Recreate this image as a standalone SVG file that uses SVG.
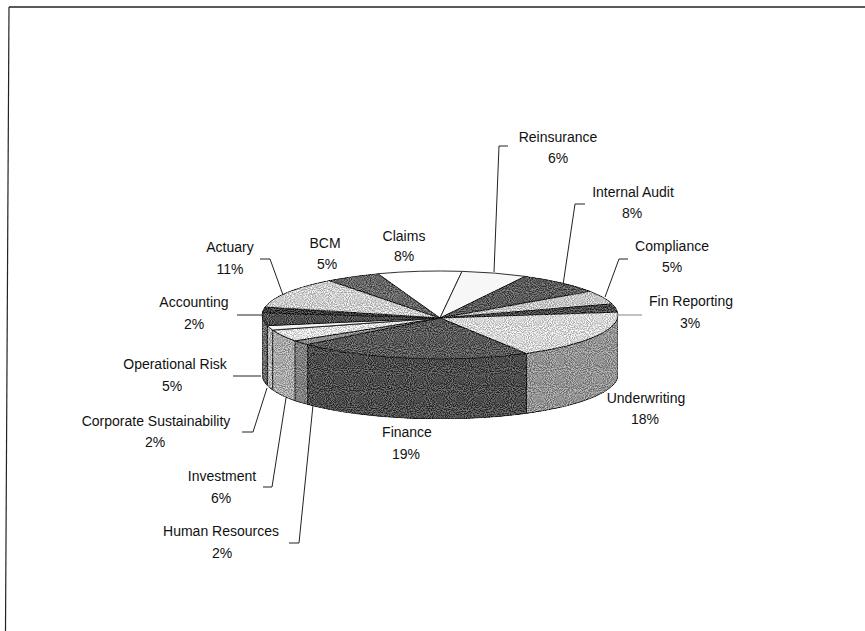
<svg xmlns="http://www.w3.org/2000/svg" width="865" height="631" viewBox="0 0 865 631">
  <style>
    .lbl { font-family: "Liberation Sans", Arial, sans-serif; font-size: 14px; fill: #111; text-anchor: middle; }
    .lead { fill: none; stroke: #222; stroke-width: 1; }
    .edge { stroke: #1a1a1a; stroke-width: 0.9; stroke-linejoin: round; }
    .grainy { filter: url(#grain); }
  </style>
  <defs>
    <!-- halftone-like grain for the shaded slices -->
    <filter id="grain" x="0" y="0" width="100%" height="100%" color-interpolation-filters="sRGB">
      <feTurbulence type="fractalNoise" baseFrequency="0.95" numOctaves="1" seed="7" result="noise"/>
      <feColorMatrix in="noise" type="matrix" values="1 0 0 0 0  1 0 0 0 0  1 0 0 0 0  0 0 0 0 1" result="gray"/>
      <feComponentTransfer in="gray" result="contrast">
        <feFuncR type="linear" slope="3" intercept="-1"/>
        <feFuncG type="linear" slope="3" intercept="-1"/>
        <feFuncB type="linear" slope="3" intercept="-1"/>
      </feComponentTransfer>
      <feComposite in="SourceGraphic" in2="contrast" operator="arithmetic" k1="0" k2="1" k3="0.35" k4="-0.175" result="mix"/>
      <feComposite in="mix" in2="SourceGraphic" operator="in"/>
    </filter>
  </defs>

  <!-- page frame -->
  <g id="frame" fill="none" stroke="#222">
    <line x1="9" y1="7" x2="865" y2="7" stroke-width="1.5"/>
    <line x1="9" y1="7" x2="5.5" y2="631" stroke-width="1.2"/>
  </g>

  <!-- pie: side walls (front half) -->
  <g id="pie-sides" class="edge">
    <path id="side-underwriting" class="grainy" fill="#929292" d="M618,315 A178,44 0 0 1 526.3,353.48 L526.3,413.48 A178,44 0 0 0 618,375 Z"/>
    <path id="side-finance" class="grainy" fill="#4c4c4c" d="M526.3,353.48 A178,44 0 0 1 307.73,344.44 L307.73,404.44 A178,44 0 0 0 526.3,413.48 Z"/>
    <path id="side-hr" class="grainy" fill="#808080" d="M307.73,344.44 A178,44 0 0 1 295,340.86 L295,400.86 A178,44 0 0 0 307.73,404.44 Z"/>
    <path id="side-investment" class="grainy" fill="#a8a8a8" d="M295,340.86 A178,44 0 0 1 272.73,330.05 L272.73,390.05 A178,44 0 0 0 295,400.86 Z"/>
    <path id="side-corp" class="grainy" fill="#b4b4b4" d="M272.73,330.05 A178,44 0 0 1 267.29,325.64 L267.29,385.64 A178,44 0 0 0 272.73,390.05 Z"/>
    <path id="side-oprisk" class="grainy" fill="#6c6c6c" d="M267.29,325.64 A178,44 0 0 1 262,315 L262,375 A178,44 0 0 0 267.29,385.64 Z"/>
  </g>

  <!-- pie: top faces -->
  <g id="pie-top" class="edge">
    <g id="claims"><path fill="#ffffff" d="M440,318 L377.95,273.76 A178,44 0 0 1 462,271.34 Z"/></g>
    <g id="reinsurance"><path fill="#f7f7f7" d="M440,318 L462,271.34 A178,44 0 0 1 525.2,276.37 Z"/></g>
    <g id="internal-audit"><path class="grainy" fill="#5a5a5a" d="M440,318 L525.2,276.37 A178,44 0 0 1 589.97,291.29 Z"/></g>
    <g id="compliance"><path class="grainy" fill="#c6c6c6" d="M440,318 L589.97,291.29 A178,44 0 0 1 612.25,303.91 Z"/></g>
    <g id="fin-reporting"><path class="grainy" fill="#4a4a4a" d="M440,318 L612.25,303.91 A178,44 0 0 1 617.61,312.08 Z"/></g>
    <g id="underwriting"><path class="grainy" fill="#d6d6d6" d="M440,318 L617.61,312.08 A178,44 0 0 1 526.3,353.48 Z"/></g>
    <g id="finance"><path class="grainy" fill="#585858" d="M440,318 L526.3,353.48 A178,44 0 0 1 307.73,344.44 Z"/></g>
    <g id="human-resources"><path class="grainy" fill="#8c8c8c" d="M440,318 L307.73,344.44 A178,44 0 0 1 295,340.86 Z"/></g>
    <g id="investment"><path class="grainy" fill="#e0e0e0" d="M440,318 L295,340.86 A178,44 0 0 1 272.73,330.05 Z"/></g>
    <g id="corporate-sustainability"><path fill="#f4f4f4" d="M440,318 L272.73,330.05 A178,44 0 0 1 267.29,325.64 Z"/></g>
    <g id="operational-risk"><path class="grainy" fill="#4e4e4e" d="M440,318 L267.29,325.64 A178,44 0 0 1 262.24,312.7 Z"/></g>
    <g id="accounting"><path class="grainy" fill="#3c3c3c" d="M440,318 L262.24,312.7 A178,44 0 0 1 264.97,306.98 Z"/></g>
    <g id="actuary"><path class="grainy" fill="#cdcdcd" d="M440,318 L264.97,306.98 A178,44 0 0 1 329.2,280.57 Z"/></g>
    <g id="bcm"><path class="grainy" fill="#666666" d="M440,318 L329.2,280.57 A178,44 0 0 1 377.95,273.76 Z"/></g>
  </g>

  <!-- leader lines -->
  <g id="connectors">
    <polyline class="lead" points="494,272 499,146 508,146"/>
    <polyline class="lead" points="563,285 575,204 585,204"/>
    <polyline class="lead" points="605,297 619,259 628,259"/>
    <line x1="616" y1="315" x2="642" y2="315" stroke="#999" stroke-width="1.2"/>
    <polyline class="lead" points="283,295 270,259 260,259"/>
    <line class="lead" x1="262" y1="315" x2="237" y2="315"/>
    <line class="lead" x1="261" y1="376" x2="233" y2="376"/>
    <polyline class="lead" points="267,388 253,432 242,432"/>
    <polyline class="lead" points="286,398 272,487 263,487"/>
    <polyline class="lead" points="313,405 299,543 289,543"/>
  </g>

  <!-- slice labels -->
  <g id="labels">
    <text class="lbl" x="404" y="241">Claims</text>
    <text class="lbl" x="404" y="261">8%</text>
    <text class="lbl" x="325" y="248">BCM</text>
    <text class="lbl" x="327" y="269">5%</text>
    <text class="lbl" x="558" y="142">Reinsurance</text>
    <text class="lbl" x="558" y="163">6%</text>
    <text class="lbl" x="633" y="197">Internal Audit</text>
    <text class="lbl" x="632" y="218">8%</text>
    <text class="lbl" x="672" y="251">Compliance</text>
    <text class="lbl" x="672" y="272">5%</text>
    <text class="lbl" x="691" y="306">Fin Reporting</text>
    <text class="lbl" x="690" y="328">3%</text>
    <text class="lbl" x="646" y="403">Underwriting</text>
    <text class="lbl" x="645" y="424">18%</text>
    <text class="lbl" x="407" y="437">Finance</text>
    <text class="lbl" x="406" y="459">19%</text>
    <text class="lbl" x="221" y="536">Human Resources</text>
    <text class="lbl" x="222" y="558">2%</text>
    <text class="lbl" x="222" y="481">Investment</text>
    <text class="lbl" x="221" y="503">6%</text>
    <text class="lbl" x="156" y="426">Corporate Sustainability</text>
    <text class="lbl" x="155" y="447">2%</text>
    <text class="lbl" x="175" y="369">Operational Risk</text>
    <text class="lbl" x="172" y="391">5%</text>
    <text class="lbl" x="194" y="307">Accounting</text>
    <text class="lbl" x="194" y="329">2%</text>
    <text class="lbl" x="230" y="252">Actuary</text>
    <text class="lbl" x="230" y="274">11%</text>
  </g>
</svg>
